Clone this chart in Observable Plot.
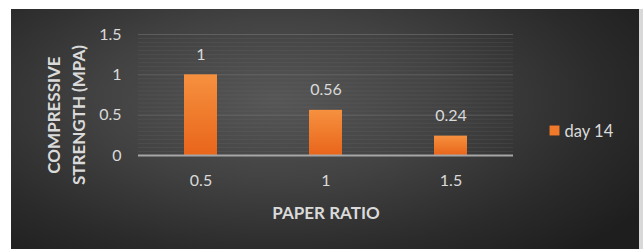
<!DOCTYPE html>
<html><head><meta charset="utf-8">
<script src="https://cdn.jsdelivr.net/npm/d3@7"></script>
<script src="https://cdn.jsdelivr.net/npm/@observablehq/plot@0.6"></script>
<style>
html,body{margin:0;padding:0;background:#fff;width:643px;height:249px;overflow:hidden;}
#panel{position:absolute;left:11px;top:9px;width:628px;height:240px;
background:radial-gradient(ellipse 70% 85% at 42% 38%, #565656 0%, #424242 40%, #2b2b2b 75%, #1e1e1e 100%);}
#edge{position:absolute;left:639px;top:9px;width:4px;height:240px;background:#d8d8d8;}
</style></head><body><div id="panel"></div><div id="edge"></div>
<script>
const ratios = ["0.5", "1", "1.5"];
const strength = [1, 0.56, 0.24];
const valueLabels = ["1", "0.56", "0.24"];
const yTicks = [0, 0.5, 1, 1.5];
const seriesName = "day 14";
const xTitle = "PAPER RATIO";
const yTitle = "COMPRESSIVE\nSTRENGTH (MPA)";

const data = ratios.map((r, i) => ({ratio: r, value: strength[i], label: valueLabels[i]}));
const textColor = "#dadada";
const font = "Lato, 'Open Sans', sans-serif";

const plot = Plot.plot({
  width: 628,
  height: 240,
  marginLeft: 127,
  marginRight: 126,
  marginTop: 25,
  marginBottom: 94,
  style: {background: "transparent", color: textColor, fontFamily: font, fontSize: "16px"},
  x: {domain: ratios, paddingInner: 0.74, paddingOuter: 0.37, label: null},
  y: {domain: [0, 1.5], label: null},
  marks: [
    Plot.gridY({ticks: 30, stroke: "#7a7a7a", strokeOpacity: 0.18}),
    Plot.gridY(yTicks, {stroke: "#8a8a8a", strokeOpacity: 0.3}),
    Plot.barY(data, {x: "ratio", y: "value", fill: "url(#barGrad)"}),
    Plot.ruleY([0], {stroke: "#a6a6a6", strokeWidth: 2}),
    Plot.axisY(yTicks, {tickSize: 0, tickPadding: 17, fontSize: 16, fill: textColor, tickFormat: d => String(d)}),
    Plot.axisX({tickSize: 0, tickPadding: 19, fontSize: 16, fill: textColor}),
    Plot.text(data, {x: "ratio", y: "value", text: "label", dy: -20, lineAnchor: "middle", fontSize: 16, fill: textColor}),
    Plot.text([xTitle], {frameAnchor: "bottom", dy: 58, textAnchor: "middle", lineAnchor: "middle", fontSize: 17, fontWeight: "bold", fill: textColor}),
    Plot.text([yTitle], {frameAnchor: "left", dx: -74, dy: 20, rotate: -90, textAnchor: "middle", lineAnchor: "middle", lineHeight: 1.45, fontSize: 17, fontWeight: "bold", fill: textColor}),
    Plot.dot([seriesName], {frameAnchor: "right", dx: 41, dy: 35.5, symbol: "square", r: 5.6, fill: "#f07a2a", stroke: null}),
    Plot.text([seriesName], {frameAnchor: "right", dx: 51, dy: 36.5, textAnchor: "start", lineAnchor: "middle", fontSize: 16.5, fill: textColor})
  ]
});

const svg = d3.select(plot);
const defs = svg.insert("defs", ":first-child");
const g = defs.append("linearGradient").attr("id", "barGrad").attr("x1", 0).attr("y1", 0).attr("x2", 0).attr("y2", 1);
g.append("stop").attr("offset", "0%").attr("stop-color", "#f6913f");
g.append("stop").attr("offset", "100%").attr("stop-color", "#e9651b");
document.getElementById("panel").appendChild(plot);
</script>
</body></html>
